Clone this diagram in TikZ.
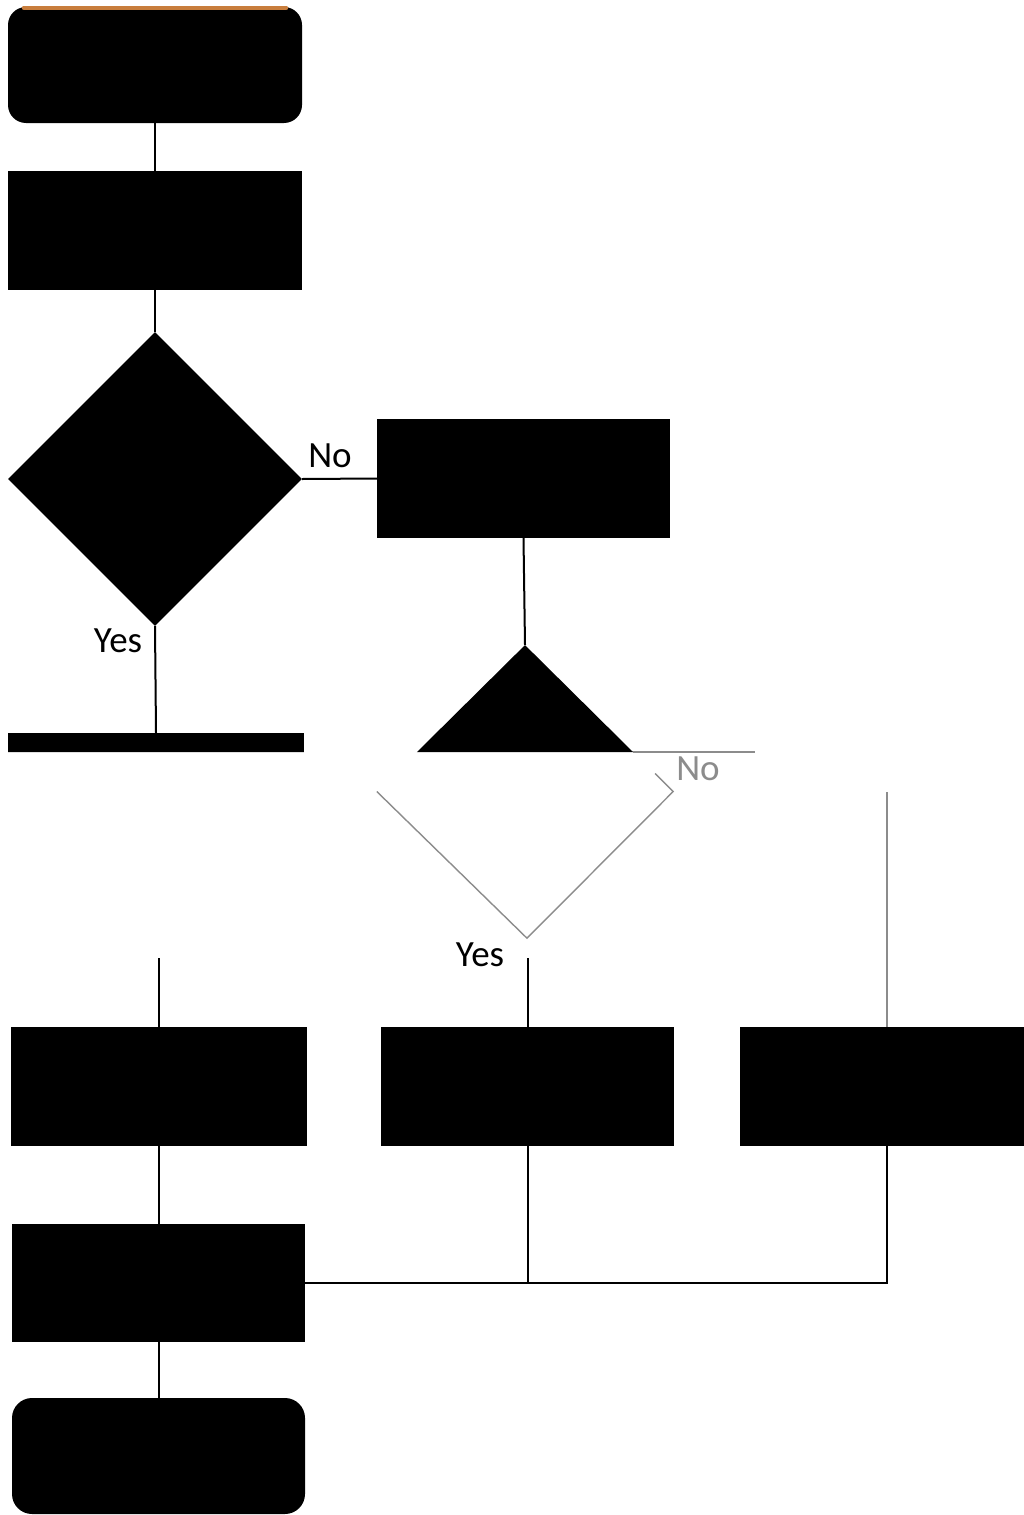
\documentclass[tikz,border=0pt]{standalone}
\usepackage{fontspec}
\setmainfont{Carlito}
\usetikzlibrary{shapes.geometric,calc}
\definecolor{topedge}{RGB}{200,125,60}
\definecolor{faint}{RGB}{140,140,140}
\tikzset{
  box/.style={rectangle, fill=black, inner sep=0pt, minimum width=294pt, minimum height=119pt},
  term/.style={box, rounded corners=18pt},
  decide/.style={diamond, fill=black, inner sep=0pt, minimum width=294pt, minimum height=294pt},
  link/.style={draw=black, line width=2pt},
  faintlink/.style={draw=faint, line width=1.4pt},
  lbl/.style={font=\fontsize{37}{42}\selectfont, inner sep=0pt}
}
\begin{document}
\begin{tikzpicture}[x=1pt,y=-1pt]
\useasboundingbox (0,0) rectangle (1024,1515);
\fill[white] (0,0) rectangle (1024,1515);
% visible layer (outside the glitched band)
\begin{scope}
\clip (0,0) rectangle (1024,752) (0,958) rectangle (1024,1515);
\node[term, minimum height=116pt] (start) at (155,65) {};
\node[box] (p1) at (155,230.5) {};
\node[decide] (d1) at (155,479) {};
\node[box, minimum width=293pt] (p2) at (523.5,478.5) {};
\node[decide, minimum width=296pt, minimum height=293pt] (d2) at (525,791.5) {};
\node[box, minimum width=296pt, minimum height=118pt] (p3) at (156,792) {};
\node[box, minimum width=296pt] (p4) at (158.5,1086.5) {};
\node[box, minimum width=293pt] (p5) at (527.5,1086.5) {};
\node[box] (p6) at (887,1086.5) {};
\node[box, minimum width=293pt, minimum height=118pt] (p7) at (158.5,1283) {};
\node[term, minimum width=293pt, minimum height=116pt, rounded corners=20pt] (stop) at (158.5,1456) {};
\draw[link] (start.south) -- (p1.north);
\draw[link] (p1.south) -- (d1.north);
\draw[link] (d1.east) -- (p2.west);
\draw[link] (d1.south) -- (p3.north);
\draw[link] (p2.south) -- (d2.north);
\draw[link] (p4.north |- p3.south) -- (p4.north);
\draw[link] (p5.north |- d2.south) -- (p5.north);
\draw[link] (p4.south) -- (p4.south |- p7.north);
\draw[link] (p5.south) -- (p5.south |- p7.east) -- (p7.east);
\draw[link] (p6.south) -- (p6.south |- p7.east) -- (p5.south |- p7.east);
\draw[link] (p7.south) -- (p7.south |- stop.north);
\end{scope}
\draw[topedge, line width=4pt, line cap=round] ($(start.north west)+(16,1)$) -- ($(start.north east)+(-16,1)$);
% glitched band: faint outlines only
\begin{scope}
\clip (0,752) rectangle (1024,958);
\draw[faintlink] (d2.west) -- ($(d2.south)+(2,0)$) -- (d2.east) -- ++(-18,-18);
\end{scope}
\coordinate (nocorner) at (887,792);
\draw[faintlink] (nocorner) -- (p6.north);
\coordinate (glitchA) at (633,752);
\coordinate (glitchB) at (755,752);
\draw[faintlink] (glitchA) -- (glitchB);
% labels
\node[lbl] (no1) at (330,456) {No};
\node[lbl] (yes1) at (118,641) {Yes};
\node[lbl, text=faint] (no2) at (698,769) {No};
\node[lbl] (yes2) at (480,955) {Yes};
\end{tikzpicture}
\end{document}
